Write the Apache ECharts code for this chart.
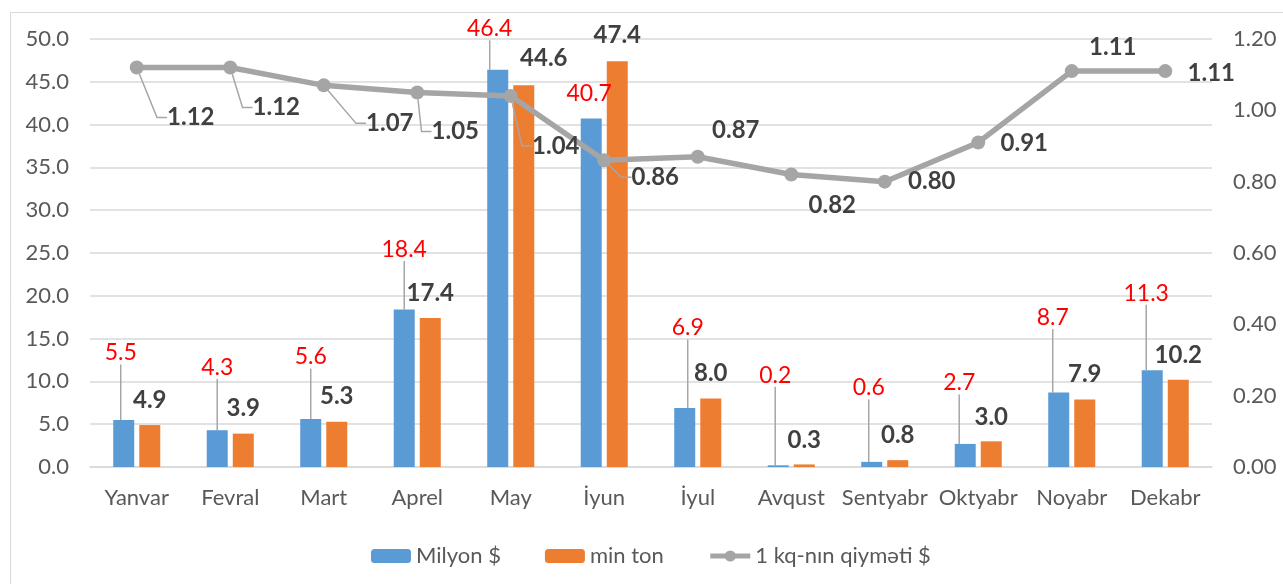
<!DOCTYPE html>
<html><head><meta charset="utf-8">
<script src="https://cdn.jsdelivr.net/npm/echarts@6/dist/echarts.min.js"></script>
<style>html,body{margin:0;padding:0;background:#fff}#c{width:1283px;height:584px}</style>
</head><body><div id="c"></div>
<script>
// ---- data ----
const months = ['Yanvar','Fevral','Mart','Aprel','May','İyun','İyul','Avqust','Sentyabr','Oktyabr','Noyabr','Dekabr'];
const milyonUSD = [5.5, 4.3, 5.6, 18.4, 46.4, 40.7, 6.9, 0.2, 0.6, 2.7, 8.7, 11.3];
const minTon = [4.9, 3.9, 5.3, 17.4, 44.6, 47.4, 8.0, 0.3, 0.8, 3.0, 7.9, 10.2];
const pricePerKg = [1.12, 1.12, 1.07, 1.05, 1.04, 0.86, 0.87, 0.82, 0.80, 0.91, 1.11, 1.11];
const leftAxis = { min: 0, max: 50, interval: 5 };
const rightAxis = { min: 0, max: 1.2, interval: 0.2 };
const seriesNames = ['Milyon $', 'min ton', '1 kq-nın qiymәti $'];

// ---- label placement (offsets of label centre from mark anchor, px) ----
const blueLabelOffset = [[-3,-67],[0,-63],[0,-62],[0,-60],[-8,-41],[-2,-25],[3,-80],[-3,-90],[-3,-74],[-6,-61],[-6,-75],[-6,-77]];
const blueLeader = [1,1,1,1,1,0,1,1,1,1,1,1];
const orangeLabelOffset = [[0,-25],[0,-25],[0,-25],[0,-25],[20,-27],[0,-26],[0,-25],[0,-24],[0,-25],[0,-24],[0,-25],[0,-24]];
const lineLabelOffset = [[54,50],[46,40],[66,38],[38,39],[45,50],[51,17],[38,-26],[41,31],[47,0],[46,1],[41,-24],[46,2]];
const lineLeader = [1,1,1,1,1,1,0,0,0,0,0,0];

const FONT = 'Lato, "Noto Sans", sans-serif';
const leaderStyle = { color: '#a6a6a6', width: 1.5 };

const chart = echarts.init(document.getElementById('c'), null, { renderer: 'canvas' });

function barLayout(offsets) {
  return function (p) {
    const o = offsets[p.dataIndex];
    return { x: p.rect.x + p.rect.width / 2 + o[0], y: p.rect.y + o[1], align: 'center', verticalAlign: 'middle' };
  };
}
function pointLayout(offsets) {
  return function (p) {
    const o = offsets[p.dataIndex];
    return { x: p.rect.x + p.rect.width / 2 + o[0], y: p.rect.y + p.rect.height / 2 + o[1], align: 'center', verticalAlign: 'middle' };
  };
}

chart.setOption({
  animation: false,
  textStyle: { fontFamily: FONT },
  graphic: [{
    type: 'rect', left: 8, top: 10, silent: true,
    shape: { width: 1300, height: 600 },
    style: { fill: 'none', stroke: '#d9d9d9', lineWidth: 1 }
  }],
  grid: { left: 90, right: 71, top: 39, bottom: 117, containLabel: false },
  legend: {
    left: 366, top: 540, itemWidth: 40, itemHeight: 14, itemGap: 44,
    textStyle: { fontFamily: FONT, fontSize: 22, color: '#595959' },
    lineStyle: { width: 5 },
    data: seriesNames
  },
  xAxis: {
    type: 'category', data: months,
    axisLine: { lineStyle: { color: '#d9d9d9', width: 1.5 } },
    axisTick: { show: false },
    axisLabel: { fontFamily: FONT, fontSize: 22, color: '#595959', margin: 20, interval: 0 }
  },
  yAxis: [{
    type: 'value', min: leftAxis.min, max: leftAxis.max, interval: leftAxis.interval,
    axisLine: { show: false }, axisTick: { show: false },
    axisLabel: { fontFamily: FONT, fontSize: 22, color: '#595959', margin: 21, formatter: v => v.toFixed(1) },
    splitLine: { lineStyle: { color: '#d9d9d9', width: 1.5 } }
  }, {
    type: 'value', min: rightAxis.min, max: rightAxis.max, interval: rightAxis.interval,
    axisLine: { show: false }, axisTick: { show: false },
    axisLabel: { fontFamily: FONT, fontSize: 22, color: '#595959', margin: 21, formatter: v => v.toFixed(2) },
    splitLine: { show: false }
  }],
  series: [{
    name: seriesNames[0], type: 'bar', barWidth: 21, barGap: '24%',
    itemStyle: { color: '#5B9BD5' },
    data: milyonUSD.map((v, i) => ({ value: v, labelLine: { show: !!blueLeader[i] } })),
    label: { show: true, position: 'top', color: '#FF0000', fontFamily: FONT, fontSize: 23, formatter: p => p.value.toFixed(1) },
    labelLine: { show: true, length2: 0, lineStyle: leaderStyle },
    labelLayout: barLayout(blueLabelOffset)
  }, {
    name: seriesNames[1], type: 'bar', barWidth: 21,
    itemStyle: { color: '#ED7D31' },
    data: minTon.slice(),
    label: { show: true, position: 'top', color: '#404040', fontWeight: 'bold', fontFamily: FONT, fontSize: 24, formatter: p => p.value.toFixed(1) },
    labelLayout: barLayout(orangeLabelOffset)
  }, {
    name: seriesNames[2], type: 'line', yAxisIndex: 1, z: 5,
    symbol: 'circle', symbolSize: 14,
    itemStyle: { color: '#A5A5A5' },
    lineStyle: { color: '#A5A5A5', width: 5.5 },
    data: pricePerKg.map((v, i) => ({ value: v, labelLine: { show: !!lineLeader[i] } })),
    label: { show: true, position: 'inside', color: '#404040', fontWeight: 'bold', fontFamily: FONT, fontSize: 24, padding: [0, 6], formatter: p => p.value.toFixed(2) },
    labelLine: { show: true, length2: 10, lineStyle: leaderStyle },
    labelLayout: pointLayout(lineLabelOffset)
  }]
});
</script>
</body></html>
